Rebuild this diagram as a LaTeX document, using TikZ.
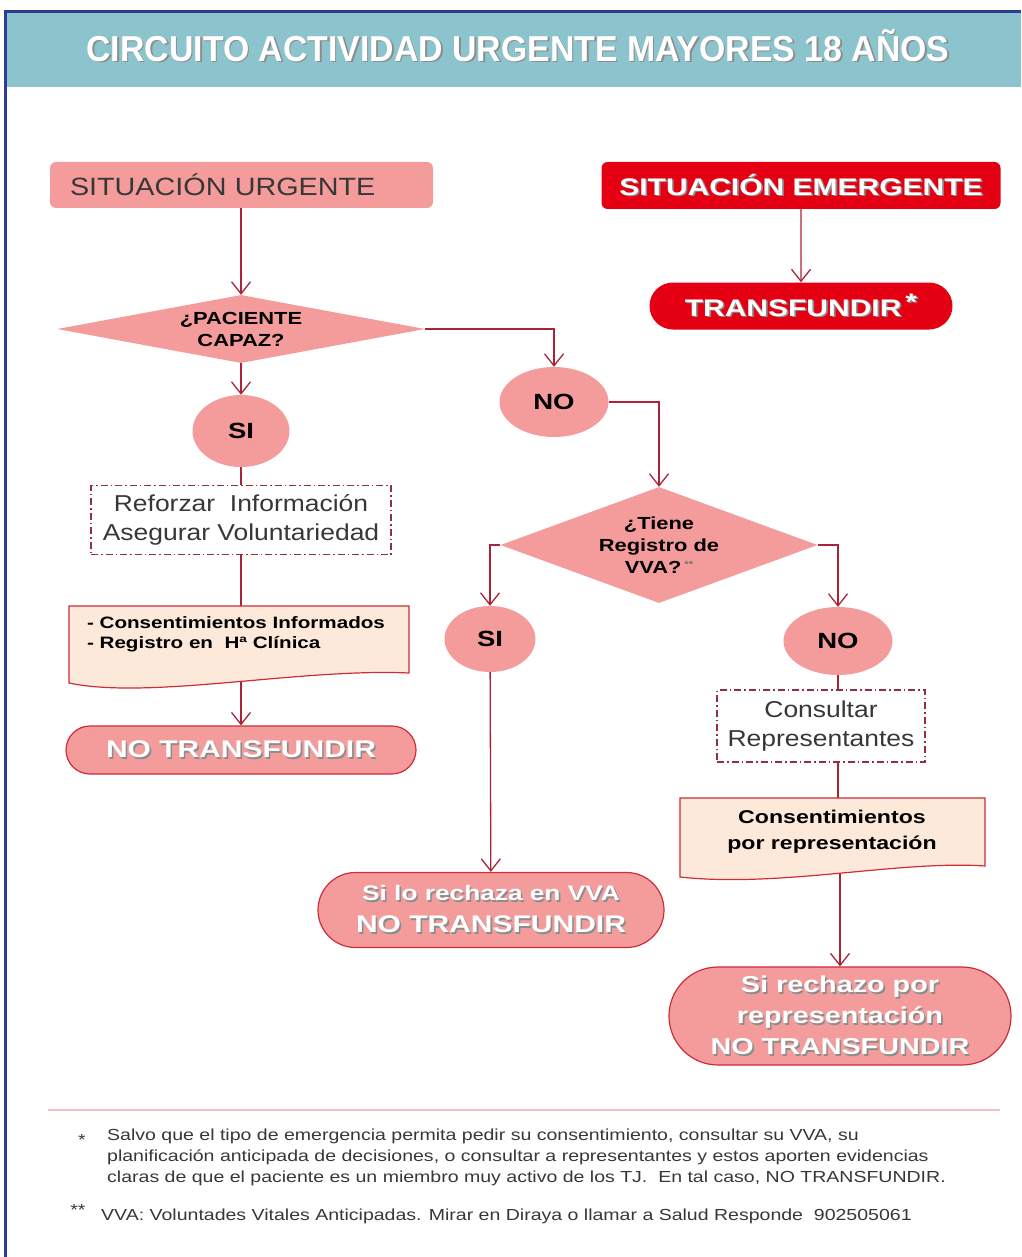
\documentclass[tikz,border=0pt]{standalone}
\usepackage{fontspec}
\setmainfont{Liberation Sans}
\newfontfamily\plainsans[FakeStretch=1.15]{Liberation Sans}
\newfontfamily\widesans[FakeStretch=1.25]{Liberation Sans}
\newfontfamily\notesans[FakeStretch=1.22]{Liberation Sans}
\newfontfamily\titlesans[FakeStretch=0.94]{Liberation Sans}
\usetikzlibrary{shapes.geometric,shapes.misc,arrows.meta,backgrounds}

\definecolor{hdrteal}{RGB}{140,196,206}
\definecolor{frameblue}{RGB}{45,60,145}
\definecolor{pinkfill}{RGB}{244,156,156}
\definecolor{emred}{RGB}{228,0,18}
\definecolor{docfill}{RGB}{253,233,217}
\definecolor{linered}{RGB}{170,35,55}
\definecolor{edgered}{RGB}{205,45,55}
\definecolor{dashcol}{RGB}{140,50,65}
\definecolor{darktext}{RGB}{55,55,55}
\definecolor{rulepink}{RGB}{240,195,195}

% white text with a grey drop shadow
\newcommand\shtxt[1]{\makebox[0pt][l]{\hspace{1.6pt}\raisebox{-1.6pt}{\textcolor{black!45}{#1}}}#1}

\tikzset{
  conn/.style={draw=linered, line width=1.3pt},
  arr/.style={conn, -{Straight Barb[length=12pt,width=19pt]}},
  urgbox/.style={rectangle, rounded corners=6pt, fill=pinkfill, minimum height=46pt,
    text width=343pt, inner xsep=20pt, inner ysep=0pt, align=left, text=darktext,
    font=\plainsans\fontsize{25}{30}\selectfont},
  emerbox/.style={rectangle, rounded corners=6pt, fill=emred, minimum width=399pt,
    minimum height=47pt, inner sep=0pt, text=white,
    font=\widesans\bfseries\fontsize{24}{29}\selectfont},
  pill/.style={rounded rectangle, inner sep=0pt, align=center, text=white,
    font=\widesans\bfseries\fontsize{24}{32}\selectfont},
  trbox/.style={pill, fill=emred},
  notrbox/.style={pill, fill=pinkfill, draw=edgered, line width=1.2pt},
  ask/.style={diamond, fill=pinkfill, inner sep=0pt, align=center,
    font=\widesans\bfseries\fontsize{17.5}{22}\selectfont},
  answer/.style={ellipse, fill=pinkfill, inner sep=0pt,
    font=\widesans\bfseries\fontsize{22}{26}\selectfont},
  dashbox/.style={rectangle, draw=dashcol, line width=1.2pt,
    dash pattern=on 7pt off 3pt on 1.5pt off 3pt, inner sep=0pt, align=center,
    text=darktext, font=\plainsans\fontsize{23}{29}\selectfont},
  docshape/.style={fill=docfill, draw=edgered, line width=1.2pt},
  doctext/.style={rectangle, inner sep=0pt, font=\widesans\bfseries\fontsize{16.5}{20}\selectfont},
  note/.style={inner sep=0pt, align=left, text=darktext,
    font=\notesans\fontsize{16}{21}\selectfont}
}

\begin{document}
\begin{tikzpicture}[x=1pt, y=-1pt]
\useasboundingbox (0,0) rectangle (1021,1257);

%% Frame and title band
\fill[hdrteal] (5,12) rectangle (1021,87);
\draw[frameblue, line width=3pt] (5,1257) -- (5,12) -- (1021,12);
\node[text=white, font=\titlesans\bfseries\fontsize{36}{40}\selectfont] (title) at (518,46)
  {\shtxt{CIRCUITO ACTIVIDAD URGENTE MAYORES 18 AÑOS}};

%% Left branch
\node[urgbox] (urg) at (241.5,185) {SITUACIÓN URGENTE};
\node[ask, aspect=5.4, minimum width=368pt, minimum height=68pt] (cap) at (241,329)
  {¿PACIENTE\\CAPAZ?};
\node[answer, minimum width=97pt, minimum height=72pt] (si1) at (241,431) {SI};
\node[dashbox, minimum width=300pt, minimum height=69pt] (ref) at (241,520)
  {Reforzar\ \ Información\\Asegurar Voluntariedad};
\filldraw[docshape] (69,606) -- (409,606) -- (409,673)
  .. controls (300,668) and (150,700) .. (69,683) -- cycle;
\node[doctext, align=left] (doc1) at (236,634)
  {- Consentimientos Informados\\- Registro en\ \ Hª Clínica};
\node[notrbox, minimum width=350pt, minimum height=48pt] (notr) at (241,750)
  {\shtxt{NO TRANSFUNDIR}};

%% Emergency
\node[emerbox] (emer) at (801,185.5) {\shtxt{SITUACIÓN EMERGENTE}};
\node[trbox, minimum width=303pt, minimum height=47pt] (tr) at (801,306)
  {\shtxt{TRANSFUNDIR\,\raisebox{6pt}{*}}};

%% Right branch
\node[answer, minimum width=109pt, minimum height=70pt] (no1) at (554,402) {NO};
\node[ask, aspect=2.73, minimum width=317pt, minimum height=116pt] (vva) at (659,545)
  {¿Tiene\\Registro de\\VVA?\,\raisebox{6pt}{\fontsize{9}{9}\selectfont\color{black!55}**}};
\node[answer, minimum width=91pt, minimum height=66pt] (si2) at (490,639) {SI};
\node[answer, minimum width=109pt, minimum height=68pt] (no2) at (838,641) {NO};
\node[dashbox, minimum width=208pt, minimum height=72pt] (cons) at (821,726)
  {Consultar\\Representantes};
\filldraw[docshape] (680,798) -- (985,798) -- (985,866)
  .. controls (900,860) and (780,888) .. (680,877) -- cycle;
\node[doctext, align=center, font=\widesans\bfseries\fontsize{18.5}{26}\selectfont] (doc2) at (832,832)
  {Consentimientos\\por representación};
\node[notrbox, minimum width=346pt, minimum height=75pt] (rej1) at (491,910)
  {{\fontsize{21}{32}\selectfont\shtxt{Si lo rechaza en VVA}}\\\shtxt{NO TRANSFUNDIR}};
\node[notrbox, minimum width=342pt, minimum height=98pt,
  font=\widesans\bfseries\fontsize{23}{31}\selectfont] (fin) at (840,1016)
  {\shtxt{Si rechazo por}\\\shtxt{representación}\\\shtxt{NO TRANSFUNDIR}};

%% Connectors
\begin{pgfonlayer}{background}
\draw[arr] (urg.south -| cap.north) -- (cap.north);
\draw[arr] (cap) -- (si1);
\draw[arr] (cap.east) -| (no1.north);
\draw[conn] (si1) -- (ref);
\draw[conn] (ref.south) -- (ref.south |- doc1.north);
\draw[arr] (doc1.south -| notr.north) -- (notr.north);
\draw[arr] (emer) -- (tr);
\draw[arr] (no1.east) -| (vva.north);
\draw[arr] (vva.west) -| (si2.north);
\draw[arr] (vva.east) -| (no2.north);
\draw[arr] (si2) -- (rej1);
\draw[conn] (no2.south) -- (no2.south |- cons.north);
\draw[conn] (cons.south -| no2.south) -- (no2.south |- doc2.north);
\draw[arr] (doc2.south -| fin.north) -- (fin.north);
\end{pgfonlayer}

%% Footnotes
\draw[rulepink, line width=1.5pt] (48,1110) -- (1000,1110);
\node[note] (star1) at (82,1140) {*};
\node[note, anchor=north west] (fn1) at (107,1129)
  {Salvo que el tipo de emergencia permita pedir su consentimiento, consultar su VVA, su\\
   planificación anticipada de decisiones, o consultar a representantes y estos aporten evidencias\\
   claras de que el paciente es un miembro muy activo de los TJ.\ \ En tal caso, NO TRANSFUNDIR.};
\node[note] (star2) at (78,1210) {**};
\node[note, anchor=north west] (fn2) at (101,1209)
  {VVA: Voluntades Vitales Anticipadas. Mirar en Diraya o llamar a Salud Responde\ \ 902505061};
\end{tikzpicture}
\end{document}
